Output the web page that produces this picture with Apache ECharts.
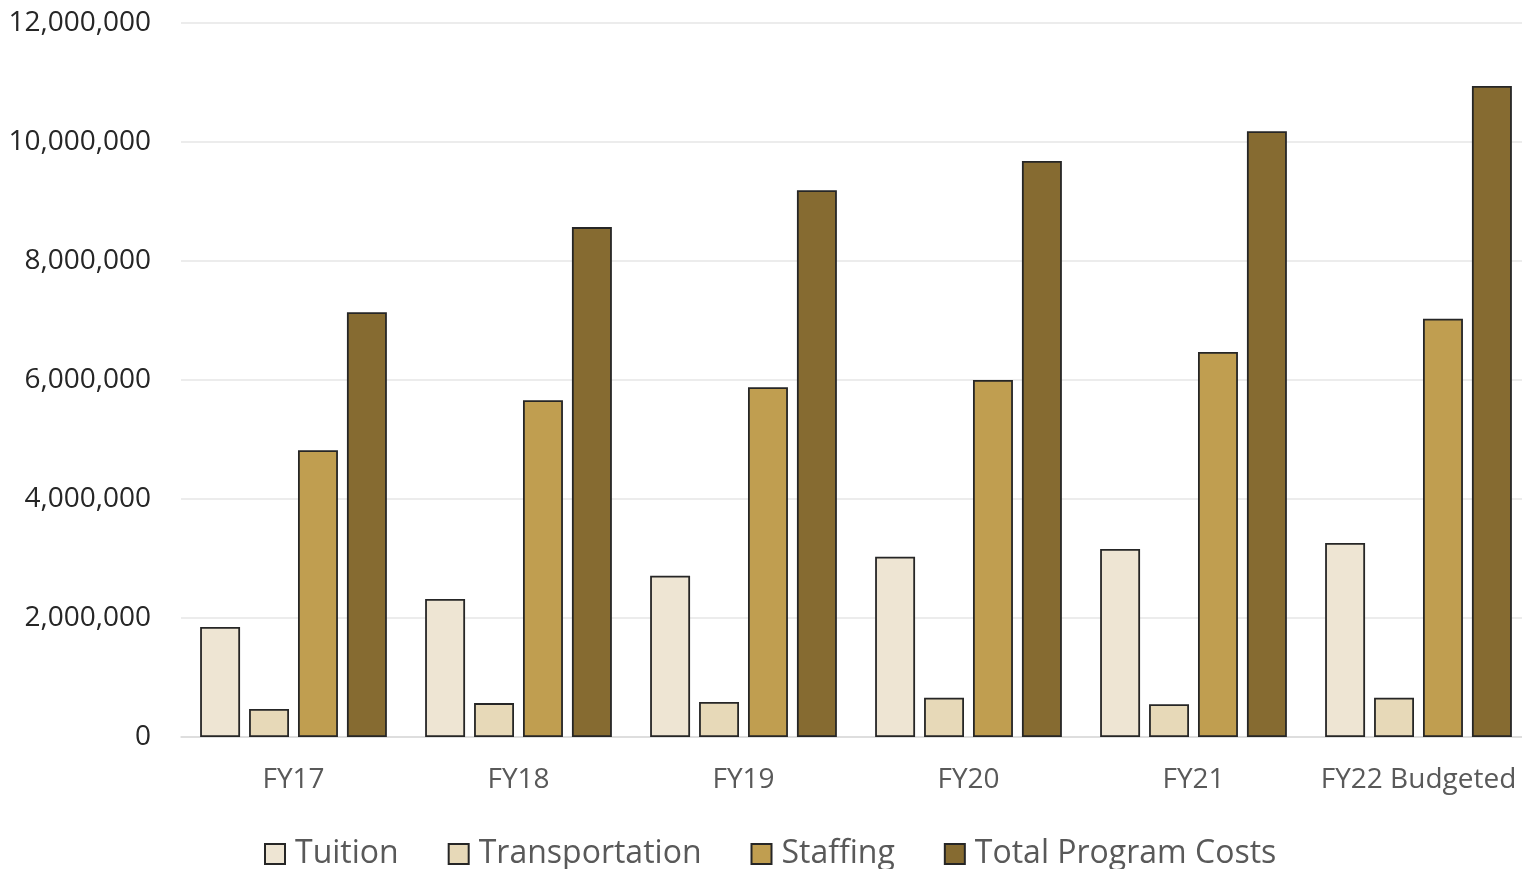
<!DOCTYPE html>
<html>
<head>
<meta charset="utf-8">
<script src="https://cdn.jsdelivr.net/npm/echarts@6/dist/echarts.min.js"></script>
<style>
  html, body { margin: 0; padding: 0; background: #ffffff; overflow: hidden; }
  #chart { width: 1522px; height: 869px; }
</style>
</head>
<body>
<div id="chart"></div>
<script>
// Program cost breakdown by fiscal year
const categories = ['FY17', 'FY18', 'FY19', 'FY20', 'FY21', 'FY22 Budgeted'];
const tuition = [1850000, 2320000, 2710000, 3030000, 3160000, 3260000];
const transportation = [470000, 570000, 590000, 660000, 550000, 660000];
const staffing = [4820000, 5660000, 5880000, 6000000, 6470000, 7030000];
const totalProgramCosts = [7140000, 8570000, 9190000, 9680000, 10180000, 10940000];
const yTicks = [0, 2000000, 4000000, 6000000, 8000000, 10000000, 12000000];

const FONT = '"Open Sans", "Noto Sans", sans-serif';

function barSeries(name, data, color) {
  return {
    name: name,
    type: 'bar',
    data: data,
    barGap: '22.5%',
    barCategoryGap: '17%',
    itemStyle: { color: color, borderColor: '#262626', borderWidth: 1.8 }
  };
}

const chart = echarts.init(document.getElementById('chart'), null, { renderer: 'canvas' });
chart.setOption({
  animation: false,
  backgroundColor: '#ffffff',
  grid: { left: 181, top: 23, width: 1350, height: 714, containLabel: false, outerBoundsMode: 'none' },
  legend: {
    left: 264,
    top: 837,
    padding: 0,
    itemWidth: 20,
    itemHeight: 20,
    itemGap: 49,
    icon: 'rect',
    textStyle: { fontFamily: FONT, fontSize: 32, lineHeight: 34, color: '#595959', padding: [0, 0, 0, 5] },
    data: ['Tuition', 'Transportation', 'Staffing', 'Total Program Costs']
  },
  xAxis: {
    type: 'category',
    data: categories,
    axisLine: { show: true, lineStyle: { color: '#d9d9d9', width: 1.5 } },
    axisTick: { show: false },
    axisLabel: { interval: 0, fontFamily: FONT, fontSize: 28, color: '#595959', margin: 29 }
  },
  yAxis: {
    type: 'value',
    min: yTicks[0],
    max: yTicks[yTicks.length - 1],
    interval: yTicks[1] - yTicks[0],
    axisLine: { show: false },
    axisTick: { show: false },
    splitLine: { lineStyle: { color: '#e6e6e6', width: 1.5 } },
    axisLabel: {
      fontFamily: FONT,
      fontSize: 28,
      color: '#262626',
      margin: 30,
      formatter: v => v.toLocaleString('en-US')
    }
  },
  series: [
    barSeries('Tuition', tuition, '#eee5d3'),
    barSeries('Transportation', transportation, '#e7d9b8'),
    barSeries('Staffing', staffing, '#c09e50'),
    barSeries('Total Program Costs', totalProgramCosts, '#866b31')
  ]
});
</script>
</body>
</html>
